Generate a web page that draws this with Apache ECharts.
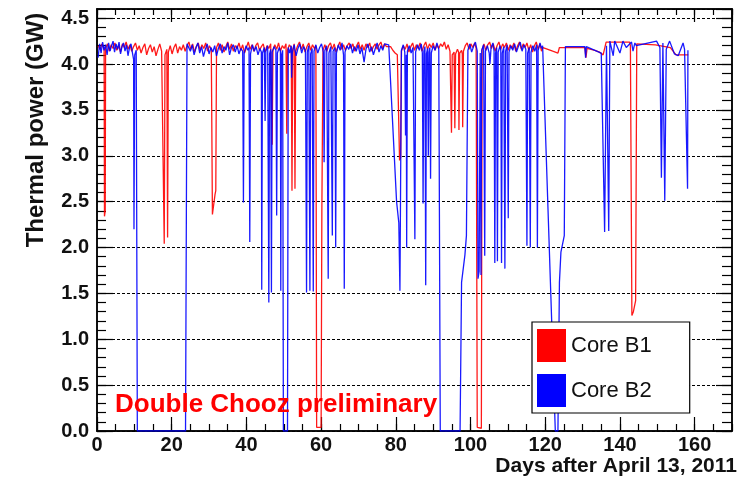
<!DOCTYPE html>
<html>
<head>
<meta charset="utf-8">
<script src="https://cdn.jsdelivr.net/npm/echarts@6/dist/echarts.min.js"></script>
<style>html,body{margin:0;padding:0;background:#fff}#c{width:748px;height:477px}</style>
</head>
<body>
<div id="c"></div>
<script>
// ---- data (day after April 13 2011, thermal power GW) ----
const coreB1 = [
[0.3,4.20],[0.8,4.16],[1.3,4.22],[1.7,4.18],[1.9,4.15],[2.0,2.34],[2.2,2.40],[2.3,4.17],[2.8,4.22],[3.3,4.14],[3.8,4.21],[4.3,4.17],[4.8,4.23],[5.3,4.15],[5.8,4.20],[6.3,4.13],[6.8,4.22],[7.3,4.18],[7.8,4.24],[8.3,4.16],[8.8,4.21],[9.3,4.14],[9.8,4.19],[10.3,4.23],[10.8,4.15],[11.3,4.20],[11.8,4.12],[12.3,4.18],[12.8,4.22],[13.3,4.10],[13.8,4.17],[14.3,4.21],[14.8,4.13],[15.3,4.19],[15.8,4.09],[16.3,4.16],[16.8,4.22],[17.3,4.14],[17.8,4.12],[18.0,2.04],[18.2,4.10],[18.7,4.16],[18.9,2.11],[19.1,4.13],[19.6,4.20],[20.1,4.11],[20.6,4.18],[21.1,4.22],[21.6,4.12],[22.1,4.19],[22.6,4.15],[23.1,4.21],[23.6,4.14],[24.1,4.20],[24.6,4.24],[25.1,4.16],[25.6,4.22],[26.1,4.13],[26.6,4.19],[27.1,4.23],[27.6,4.15],[28.1,4.21],[28.6,4.17],[29.1,4.23],[29.6,4.14],[30.1,4.20],[30.6,4.16],[30.9,2.36],[31.6,2.58],[31.8,2.62],[32.0,4.18],[32.5,4.23],[33.0,4.15],[33.5,4.21],[34.0,4.13],[34.5,4.19],[35.0,4.24],[35.5,4.16],[36.0,4.22],[36.5,4.14],[37.0,4.20],[37.5,4.17],[38.0,4.23],[38.5,4.15],[39.0,4.21],[39.5,4.12],[40.0,4.18],[40.5,4.24],[41.0,4.16],[41.5,4.21],[42.0,4.14],[42.5,4.20],[43.0,4.23],[43.5,4.15],[44.0,4.19],[44.5,4.22],[45.0,4.13],[45.5,4.20],[46.0,4.17],[46.5,4.22],[46.9,3.12],[47.1,4.15],[47.6,4.21],[48.1,4.16],[48.6,4.23],[49.1,4.14],[49.6,4.20],[50.1,4.17],[50.6,4.22],[50.8,3.24],[51.0,4.15],[51.5,4.21],[52.0,4.18],[52.2,2.62],[52.4,4.16],[52.8,4.22],[53.0,2.64],[53.2,4.14],[53.7,4.20],[54.2,4.24],[54.7,4.16],[55.2,4.22],[55.7,4.13],[56.2,4.19],[56.7,4.23],[57.2,4.15],[57.7,4.21],[58.2,4.17],[58.6,4.20],[58.8,0.04],[60.0,0.04],[60.2,2.40],[60.4,2.38],[60.5,4.15],[61.0,4.21],[61.5,4.14],[62.0,4.20],[62.5,4.23],[63.0,4.16],[63.5,4.22],[64.0,4.13],[64.5,4.19],[65.0,4.24],[65.5,4.16],[66.0,4.21],[66.5,4.15],[67.0,4.20],[67.5,4.23],[68.0,4.17],[68.5,4.22],[69.0,4.14],[69.5,4.20],[70.0,4.24],[70.5,4.16],[71.0,4.21],[71.5,4.15],[72.0,4.22],[72.5,4.18],[73.0,4.23],[73.5,4.14],[74.0,4.19],[74.5,4.22],[75.0,4.16],[75.5,4.21],[76.0,4.24],[76.5,4.17],[77.0,4.22],[77.5,4.19],[78.0,4.21],[78.6,4.19],[79.2,4.15],[79.8,4.12],[80.4,4.10],[80.8,4.12],[81.0,2.95],[81.3,2.98],[81.5,4.14],[82.0,4.20],[82.5,4.16],[83.0,4.22],[83.5,4.13],[84.0,4.19],[84.5,4.23],[85.0,4.15],[85.5,4.21],[86.0,4.17],[86.5,4.23],[87.0,4.14],[87.5,4.20],[88.0,4.24],[88.5,4.16],[89.0,4.22],[89.5,4.18],[90.0,4.23],[90.5,4.15],[91.0,4.21],[91.5,4.17],[92.0,4.22],[92.5,4.19],[93.0,4.24],[93.5,4.16],[94.0,4.21],[94.5,4.14],[94.8,4.12],[94.9,3.25],[95.1,4.10],[95.6,4.13],[95.8,3.30],[96.0,4.11],[96.5,4.16],[96.8,4.13],[96.9,3.28],[97.1,4.12],[97.6,4.15],[97.8,4.11],[97.9,3.31],[98.1,4.14],[98.6,4.20],[99.1,4.23],[99.6,4.16],[100.1,4.22],[100.6,4.18],[101.1,4.23],[101.5,4.17],[101.6,4.15],[101.8,0.04],[102.9,0.03],[103.1,4.16],[103.6,4.22],[104.1,4.15],[104.6,4.21],[105.1,4.24],[105.6,4.17],[106.1,4.22],[106.6,4.14],[107.1,4.20],[107.6,4.24],[108.1,4.16],[108.6,4.22],[109.1,4.18],[109.6,4.23],[110.1,4.15],[110.6,4.21],[111.1,4.17],[111.6,4.23],[112.1,4.14],[112.6,4.20],[113.1,4.24],[113.6,4.16],[114.1,4.22],[114.6,4.18],[115.1,4.23],[115.6,4.15],[116.1,4.21],[116.6,4.13],[117.1,4.20],[117.6,4.24],[118.1,4.16],[118.6,4.22],[119.0,4.14],[119.4,4.18],
[122.0,4.14],[123.4,4.12],[123.8,4.18],[130.6,4.18],[130.9,4.07],[131.2,4.17],[131.5,4.18],[133.3,4.15],[134.5,4.13],[135.5,4.10],[136.3,4.24],[142.6,4.24],[142.8,4.20],[143.2,1.26],[143.6,1.30],[144.2,1.42],[144.5,4.22],[144.6,4.23],[149.5,4.21],[153.5,4.18],[155.0,4.10],[158.3,4.10]
];
const coreB2 = [
[0.3,4.07],[0.7,4.22],[1.1,4.12],[1.5,4.24],[1.9,4.15],[2.3,4.21],[2.7,4.10],[3.1,4.23],[3.5,4.14],[3.9,4.20],[4.3,4.25],[4.7,4.13],[5.1,4.22],[5.5,4.16],[5.9,4.24],[6.3,4.11],[6.7,4.19],[7.1,4.23],[7.5,4.14],[7.9,4.21],[8.3,4.09],[8.7,4.18],[9.1,4.22],[9.5,4.12],[9.8,4.05],[9.9,2.20],[10.1,4.10],[10.5,4.15],[10.8,0.0],[23.7,0.0],[24.1,4.22],[24.5,4.24],[25.0,4.14],[25.5,4.21],[26.0,4.10],[26.5,4.18],[27.0,4.23],[27.5,4.12],[28.0,4.19],[28.5,4.08],[29.0,4.16],[29.5,4.22],[30.0,4.11],[30.5,4.18],[31.0,4.13],[31.5,4.20],[32.0,4.09],[32.5,4.17],[33.0,4.22],[33.5,4.12],[34.0,4.19],[34.5,4.15],[35.0,4.23],[35.5,4.10],[36.0,4.18],[36.5,4.21],[37.0,4.13],[37.5,4.20],[38.0,4.11],[38.5,4.17],[39.0,4.14],[39.2,2.49],[39.4,4.12],[39.9,4.20],[40.4,4.15],[40.7,4.18],[40.9,2.06],[41.1,4.11],[41.6,4.21],[42.1,4.14],[42.6,4.19],[43.1,4.10],[43.6,4.17],[44.0,4.13],[44.1,1.54],[44.3,4.12],[44.8,4.18],[45.0,3.38],[45.2,4.14],[45.7,4.20],[46.0,1.40],[46.2,4.11],[46.5,4.16],[46.7,1.51],[46.9,4.13],[47.4,4.19],[47.9,4.15],[48.1,2.35],[48.3,4.12],[48.8,4.18],[49.1,4.14],[49.2,1.53],[49.4,4.10],[49.7,4.15],[49.9,0.0],[51.0,0.0],[51.2,4.18],[51.6,4.12],[52.0,4.20],[52.1,3.85],[52.3,4.13],[52.8,4.21],[53.3,4.09],[53.8,4.17],[54.3,4.22],[54.8,4.12],[55.3,4.19],[55.8,4.15],[56.1,1.51],[56.3,4.13],[56.7,4.20],[57.0,1.53],[57.2,4.11],[57.6,4.17],[57.9,1.52],[58.1,4.14],[58.6,4.21],[59.1,4.12],[59.6,4.18],[60.1,4.22],[60.6,4.13],[60.8,2.93],[61.0,4.15],[61.5,4.20],[61.9,1.66],[62.1,4.12],[62.6,4.19],[63.0,2.13],[63.2,4.14],[63.7,4.18],[63.9,2.00],[64.1,4.12],[64.6,4.21],[65.1,4.15],[65.6,4.23],[66.0,4.10],[66.2,1.55],[66.4,4.13],[66.9,4.20],[67.4,4.16],[67.9,4.22],[68.4,4.12],[68.9,4.19],[69.4,4.14],[69.9,4.21],[70.4,4.11],[70.9,4.18],[71.5,4.02],[72.0,4.16],[72.5,4.22],[73.0,4.13],[73.5,4.19],[74.0,4.10],[74.5,4.17],[75.0,4.23],[75.5,4.13],[76.0,4.20],[76.5,4.15],[77.0,4.22],[77.5,4.21],[78.1,4.21],[80.2,2.50],[80.8,2.27],[81.1,1.53],[81.3,1.55],[81.5,4.15],[82.0,4.21],[82.4,4.13],[82.6,3.22],[82.8,4.10],[82.9,2.00],[83.1,4.14],[83.6,4.20],[84.1,4.12],[84.6,4.18],[85.1,2.09],[85.3,4.13],[85.8,4.21],[86.3,4.15],[86.8,4.22],[87.1,4.12],[87.3,2.48],[87.5,4.14],[87.8,4.19],[88.0,1.59],[88.2,4.11],[88.5,4.17],[88.7,3.00],[88.9,4.13],[89.1,4.18],[89.3,2.75],[89.5,4.12],[90.0,4.20],[90.5,4.15],[91.0,4.23],[91.5,4.16],[91.7,4.14],[91.9,0.0],[97.2,0.0],[97.6,1.62],[98.5,1.92],[98.9,2.13],[99.3,4.15],[99.8,4.22],[100.3,4.13],[100.8,4.19],[101.3,4.24],[101.8,4.14],[102.0,1.66],[102.3,1.74],[102.6,4.12],[102.8,1.70],[103.0,4.15],[103.5,4.21],[103.8,1.91],[104.0,4.14],[104.5,4.20],[105.0,4.12],[105.2,4.00],[105.5,4.18],[106.0,4.23],[106.3,4.14],[106.5,1.83],[106.7,4.12],[107.0,4.18],[107.2,1.85],[107.4,4.13],[107.9,4.20],[108.1,4.15],[108.3,1.83],[108.5,4.12],[108.9,4.19],[109.2,1.77],[109.4,4.14],[109.8,4.21],[110.1,2.32],[110.3,4.13],[110.8,4.20],[111.3,4.15],[111.8,4.22],[112.3,4.13],[112.8,4.19],[113.3,4.24],[113.8,4.14],[114.3,4.21],[114.8,4.16],[115.1,2.02],[115.3,4.12],[115.7,4.18],[116.0,2.00],[116.2,4.13],[116.7,4.20],[117.2,4.14],[117.7,4.21],[117.9,2.00],[118.1,4.15],[118.6,4.23],[119.0,4.17],[119.3,4.20],[122.7,0.0],[123.4,0.0],[123.8,1.62],[124.2,1.95],[125.1,2.13],[125.4,4.19],[130.6,4.19],[130.8,4.07],[131.0,4.19],[131.5,4.18],[133.3,4.15],[135.0,4.12],[135.5,4.11],[135.9,2.17],[136.4,4.20],[137.0,2.18],[137.3,4.25],[138.2,4.09],[138.6,4.25],[140.0,4.12],[140.8,4.25],[141.7,4.18],[143.1,4.24],[143.5,4.14],[144.0,4.23],[144.4,4.20],[149.8,4.25],[150.7,4.18],[151.1,2.76],[151.5,4.23],[152.0,2.51],[152.4,4.16],[153.3,4.25],[154.6,4.11],[155.6,4.09],[156.9,4.23],[157.3,4.16],[158.1,2.64],[158.2,4.15]
];
const seriesNames = ['Core B1', 'Core B2'];
const xRange = [0, 170];
const xMajor = 20, xMinor = 5;
const yRange = [0, 4.6];
const yMajor = 0.5, yMinor = 0.1;
const yTitle = 'Thermal power (GW)';
const xTitle = 'Days after April 13, 2011';
const stamp = 'Double Chooz preliminary';

const FONT = '"Liberation Sans", Arial, Helvetica, sans-serif';
const INK = '#111';

function xAx(pos, interval, tickLen, labels) {
  return {
    type: 'value', position: pos, min: xRange[0], max: xRange[1], interval: interval,
    axisLine: { show: true, onZero: false, lineStyle: { color: '#000', width: 1.5 } },
    axisTick: { show: true, inside: true, length: tickLen, lineStyle: { color: '#000', width: 1.2 } },
    axisLabel: labels ? { show: true, showMaxLabel: false, margin: 4, color: INK, fontFamily: FONT, fontWeight: 'bold', fontSize: 20 } : { show: false },
    splitLine: { show: false }
  };
}
function yAx(pos, interval, tickLen, labels, grid) {
  return {
    type: 'value', position: pos, min: yRange[0], max: yRange[1], interval: interval,
    axisLine: { show: true, onZero: false, lineStyle: { color: '#000', width: 1.5 } },
    axisTick: { show: true, inside: true, length: tickLen, lineStyle: { color: '#000', width: 1.2 } },
    axisLabel: labels ? { show: true, showMaxLabel: false, margin: 8, color: INK, fontFamily: FONT, fontWeight: 'bold', fontSize: 20, formatter: v => v.toFixed(1) } : { show: false },
    splitLine: grid ? { show: true, lineStyle: { color: '#000', width: 1, type: [3, 2] } } : { show: false }
  };
}

const chart = echarts.init(document.getElementById('c'), null, { renderer: 'canvas' });
chart.setOption({
  animation: false,
  backgroundColor: '#fff',
  grid: { left: 97, right: 16, top: 9, bottom: 46, show: false },
  xAxis: [
    xAx('bottom', xMajor, 14, true),
    xAx('bottom', xMinor, 7, false),
    xAx('top', xMajor, 13, false),
    xAx('top', xMinor, 6, false)
  ],
  yAxis: [
    yAx('left', yMajor, 16, true, true),
    yAx('left', yMinor, 9, false, false),
    yAx('right', yMajor, 16, false, false),
    yAx('right', yMinor, 10, false, false)
  ],
  legend: {
    show: true, orient: 'vertical', left: 532, top: 322,
    padding: [7, 38, 6, 5], itemGap: 12, itemWidth: 29, itemHeight: 33,
    icon: 'rect', backgroundColor: '#fff', borderColor: '#000', borderWidth: 1.2, borderRadius: 0,
    textStyle: { fontFamily: FONT, fontSize: 22, color: INK },
    data: seriesNames, selectedMode: false
  },
  series: [
    { name: seriesNames[0], type: 'line', data: coreB1, showSymbol: false, symbol: 'none',
      color: '#ff0000', lineStyle: { color: '#ff0000', width: 1.3, opacity: 0.9 }, itemStyle: { color: '#ff0000' }, z: 2 },
    { name: seriesNames[1], type: 'line', data: coreB2, showSymbol: false, symbol: 'none',
      color: '#0000ff', lineStyle: { color: '#0000ff', width: 1.3, opacity: 0.9 }, itemStyle: { color: '#0000ff' }, z: 3 }
  ],
  graphic: [
    { type: 'text', x: 36, y: 130, rotation: Math.PI / 2, z: 100,
      style: { text: yTitle, font: 'bold 24px ' + FONT, fill: INK, textAlign: 'center', textVerticalAlign: 'middle', verticalAlign: 'middle' } },
    { type: 'text', x: 737, y: 466, z: 100,
      style: { text: xTitle, font: 'bold 21px ' + FONT, fill: INK, textAlign: 'right', textVerticalAlign: 'middle', verticalAlign: 'middle' } },
    { type: 'text', x: 115, y: 405, z: 100,
      style: { text: stamp, font: 'bold 26px ' + FONT, fill: '#ff0000', textAlign: 'left', textVerticalAlign: 'middle', verticalAlign: 'middle' } }
  ]
});
</script>
</body>
</html>
